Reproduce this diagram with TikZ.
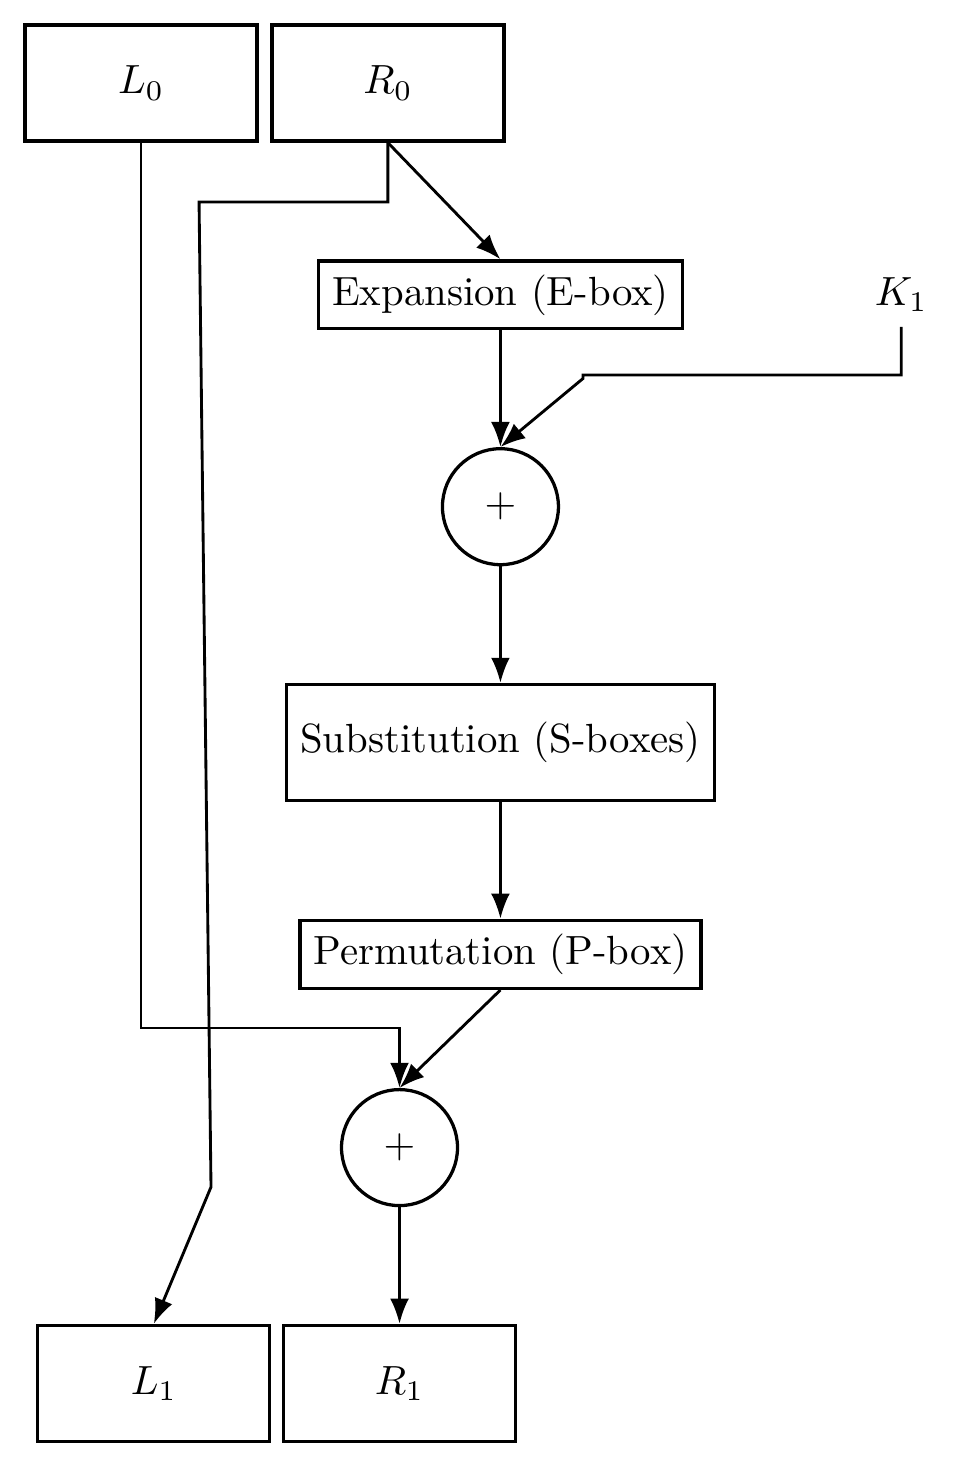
\documentclass[tikz,border=0pt]{standalone}
\usetikzlibrary{positioning, arrows.meta}

\begin{document}
\begin{tikzpicture}[node distance=1.005cm, >={Latex}, line width=0.7pt,
		half/.style={draw, thick, minimum width=2cm, minimum height=1cm},
		stage/.style={draw, thick},
		xor/.style={draw, thick, circle, minimum size=1cm}]
	\useasboundingbox (0,0) rectangle (8.31,-12.707);
	\node[half]  (L0)  at (1.216,-0.716) {$L_0$};
	\node[half, right=0.10cm of L0]  (R0)  {$R_0$};
	\node[stage, below=of R0, xshift=0.97cm]  (exp)  {Expansion (E-box)};
	\node[right=1.515cm of exp]  (K1)  {$K_1$};
	\node[xor, below=of exp]  (xor1)  {$+$};
	\node[stage, minimum height=1cm, below=of xor1]  (sub)  {Substitution (S-boxes)};
	\node[stage, below=of sub]  (perm)  {Permutation (P-box)};
	\node[xor, below=0.845cm of perm, xshift=-0.87cm]  (xor2)  {$+$};
	\node[half, below=of xor2]  (R1)  {$R_1$};
	\node[half, left=0.09cm of R1]  (L1)  {$L_1$};

	\coordinate (ljoin) at (1.216,-8.862);
	\coordinate (rbend) at (1.716,-1.741);
	\coordinate (lbend) at (1.819,-10.233);
	\coordinate (kbend) at (5.026,-3.233);

	\draw[->] (L0) |- (xor2.north |- ljoin) -- (xor2.north) ;
	\draw[->] (R0) |- (rbend) -- (lbend) -- (L1.north) ;
	\draw[->] (R0.south) -- (exp.north) ;
	\draw[->] (exp) -- (xor1) ;
	\draw[->] (K1) |- (kbend) -- ++(0,-0.03) -- (xor1.north) ;
	\draw[->] (xor1) -- (sub) ;
	\draw[->] (sub) -- (perm) ;
	\draw[->] (perm.south) -- (xor2.north) ;
	\draw[->] (xor2) -- (R1) ;
\end{tikzpicture}
\end{document}
